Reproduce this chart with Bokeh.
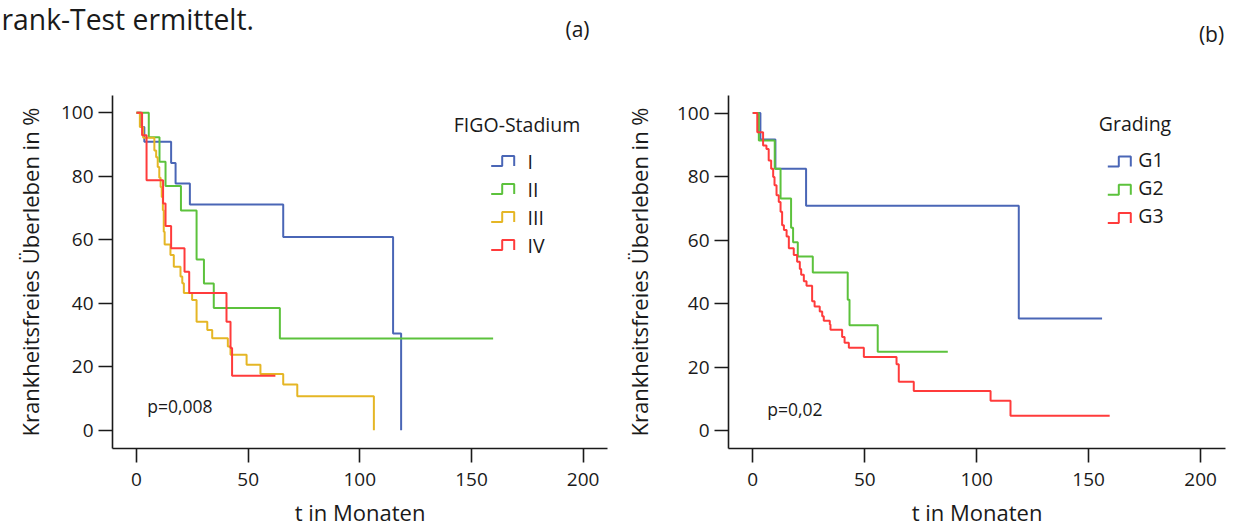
from bokeh.plotting import figure
from bokeh.layouts import row, column
from bokeh.models import Range1d, Label, FixedTicker
from bokeh.embed import file_html
from bokeh.resources import INLINE

FONT = "Open Sans"
TXT = "#1a1a1a"

# ---------------- data ----------------
x_ticks = [0, 50, 100, 150, 200]
y_ticks = [0, 20, 40, 60, 80, 100]
x_label = "t in Monaten"
y_label = "Krankheitsfreies Überleben in %"
header_text = "rank-Test ermittelt."
panel_tags = ["(a)", "(b)"]

# (a) FIGO stage
figo_title = "FIGO-Stadium"
figo_names = ["I", "II", "III", "IV"]
figo_colors = ["#4a66b6", "#5cc23c", "#e5b625", "#ff3b3b"]
figo_p = "p=0,008"

figo1_t = [0, 2.0, 3.5, 15.5, 17.5, 23.9, 65.7, 114.9, 118.5]
figo1_s = [100, 95.5, 90.9, 84.2, 77.7, 71.1, 60.9, 30.5, 0]

figo2_t = [0, 5.5, 10.3, 13.0, 19.9, 26.9, 30.2, 34.6, 64.2, 159.7]
figo2_s = [100, 92.3, 84.6, 76.9, 69.2, 53.8, 46.2, 38.5, 28.9, 28.9]

figo3_t = [0, 1.5, 3.0, 8.0, 8.8, 9.5, 10.2, 10.8, 11.3, 11.8, 12.2, 12.6, 15.2, 16.7,
           19.7, 20.5, 21.2, 24.9, 26.9, 31.7, 33.9, 40.9, 42.1, 49.3, 55.5, 65.7, 72.0, 106.3]
figo3_s = [100, 95.5, 92.1, 88.1, 86.0, 82.9, 79.5, 76.6, 73.5, 69.3, 62.5, 58.5, 55.2, 51.5,
           48.4, 46.3, 43.2, 41.0, 34.2, 31.6, 29.0, 26.4, 23.8, 20.6, 17.7, 14.4, 10.7, 0]

figo4_t = [0, 2.5, 4.5, 11.9, 13.0, 15.5, 21.5, 23.6, 40.3, 42.1, 42.8, 62.2]
figo4_s = [100, 92.9, 78.7, 71.4, 64.3, 57.3, 49.9, 43.2, 34.2, 25.9, 17.2, 17.2]

# (b) grading
grade_title = "Grading"
grade_names = ["G1", "G2", "G3"]
grade_colors = ["#4a66b6", "#5cc23c", "#ff3b3b"]
grade_p = "p=0,02"

g1_t = [0, 3.4, 10.1, 23.8, 118.8, 156.0]
g1_s = [100, 91.7, 82.5, 70.8, 35.3, 35.3]

g2_t = [0, 2.7, 9.8, 12.4, 17.1, 18.0, 20.1, 26.8, 42.4, 43.2, 55.8, 87.1]
g2_s = [100, 91.4, 82.5, 73.1, 63.9, 59.3, 54.8, 49.8, 41.2, 33.2, 24.8, 24.8]

g3_t = [0, 2.0, 4.6, 6.1, 7.1, 8.2, 9.1, 9.7, 10.6, 11.6,
        12.4, 13.1, 13.9, 15.1, 16.1, 18.3, 19.8, 21.0, 21.6, 22.8,
        24.0, 26.5, 27.6, 29.9, 31.0, 31.7, 34.4, 34.7, 39.9, 41.0,
        42.9, 49.6, 64.2, 65.2, 71.9, 106.2, 115.1, 159.4]
g3_s = [100, 94.0, 89.8, 88.7, 85.1, 82.5, 79.9, 77.3, 74.1, 72.0,
        68.9, 64.7, 63.2, 61.1, 57.4, 55.3, 53.2, 50.9, 49.1, 47.0,
        45.6, 40.7, 39.1, 37.5, 36.0, 34.6, 33.4, 31.8, 29.5, 27.7,
        26.1, 23.2, 20.9, 15.4, 12.5, 9.4, 4.7, 4.7]

# ---------------- layout helpers ----------------
TOTAL_W = 1231
HEAD_H = 50
PANEL_H = 480


class Geo:
    def __init__(self, page_x0, width, mbl, mbr, mbt, mbb, xr, yr, top0=HEAD_H):
        self.width = width
        self.mbl, self.mbr, self.mbt, self.mbb = mbl, mbr, mbt, mbb
        self.xr, self.yr = xr, yr
        self.fl = page_x0 + mbl
        self.fr = page_x0 + width - mbr
        self.ft = top0 + mbt
        self.fb = top0 + PANEL_H - mbb

    def x(self, px):
        return self.xr[0] + (px - self.fl) / (self.fr - self.fl) * (self.xr[1] - self.xr[0])

    def y(self, py):
        return self.yr[1] - (py - self.ft) / (self.fb - self.ft) * (self.yr[1] - self.yr[0])


def base_fig(g, ylab_standoff):
    p = figure(width=g.width, height=PANEL_H, output_backend="svg", toolbar_location=None,
               x_range=Range1d(*g.xr), y_range=Range1d(*g.yr), title=None,
               min_border_left=g.mbl, min_border_right=g.mbr,
               min_border_top=g.mbt, min_border_bottom=g.mbb)
    p.outline_line_color = None
    p.grid.visible = False
    p.background_fill_color = "white"
    p.border_fill_color = "white"
    for ax, ticks in ((p.xaxis, x_ticks), (p.yaxis, y_ticks)):
        ax.ticker = FixedTicker(ticks=ticks)
        ax.minor_tick_line_color = None
        ax.major_tick_in = 0
        ax.major_tick_out = 14
        ax.axis_line_width = 1.6
        ax.axis_line_color = TXT
        ax.major_tick_line_width = 1.6
        ax.major_tick_line_color = TXT
        ax.major_label_text_font = FONT
        ax.major_label_text_font_size = "19px"
        ax.major_label_text_color = TXT
        ax.axis_label_text_font = FONT
        ax.axis_label_text_font_size = "22px"
        ax.axis_label_text_font_style = "normal"
        ax.axis_label_text_color = TXT
    p.xaxis.major_label_standoff = 10
    p.yaxis.major_label_standoff = 5
    p.xaxis.axis_label = x_label
    p.yaxis.axis_label = y_label
    p.xaxis.axis_label_standoff = 8
    p.yaxis.axis_label_standoff = ylab_standoff
    return p


def text(p, g, px, py, s, size, align="left"):
    p.add_layout(Label(x=g.x(px), y=g.y(py), text=s, text_font=FONT,
                       text_font_size=size, text_color=TXT,
                       text_baseline="alphabetic", text_align=align))


def legend(p, g, title, title_x, title_base, names, colors, icon_x, label_x, base0, step, dy):
    text(p, g, title_x, title_base, title, "19.5px")
    for i, (n, c) in enumerate(zip(names, colors)):
        b = base0 + i * step
        xs = [icon_x, icon_x + 11, icon_x + 11, icon_x + 23, icon_x + 23]
        ys = [b, b, b - 10, b - 10, b]
        p.line([g.x(v) for v in xs], [g.y(v) for v in ys], line_color=c, line_width=2)
        text(p, g, label_x, b + dy, n, "19.5px")


# ---------------- header strip ----------------
head = figure(width=TOTAL_W, height=HEAD_H, output_backend="svg", toolbar_location=None,
              x_range=Range1d(0, TOTAL_W), y_range=Range1d(HEAD_H, 0), title=None,
              x_axis_location=None, y_axis_location=None,
              min_border_left=0, min_border_right=0, min_border_top=0, min_border_bottom=0)
head.outline_line_color = None
head.grid.visible = False
for s, x, y, size, align in [(header_text, 1, 18.0, "28.3px", "left"),
                             (panel_tags[0], 577, 28.0, "21px", "center"),
                             (panel_tags[1], 1211, 33.0, "21px", "center")]:
    head.add_layout(Label(x=x, y=y, text=s, text_font=FONT, text_font_size=size,
                          text_color=TXT, text_baseline="alphabetic", text_align=align))

# ---------------- panel (a) ----------------
ga = Geo(0, 616, 112, 9, 45, 81, (-10.75, 210.92), (-5.75, 105.43))
pa = base_fig(ga, 13)
for t, s, c in zip([figo1_t, figo2_t, figo3_t, figo4_t],
                   [figo1_s, figo2_s, figo3_s, figo4_s], figo_colors):
    pa.step(t, s, mode="after", line_color=c, line_width=2)
legend(pa, ga, figo_title, 453.3, 124.5, figo_names, figo_colors, 490.7, 527.0, 165.7, 28.1, -5)
text(pa, ga, 146.7, 406.0, figo_p, "17.5px")

# ---------------- panel (b) ----------------
gb = Geo(616, 615, 112, 6, 43, 82, (-10.85, 211.13), (-5.64, 105.54))
pb = base_fig(gb, 20)
for t, s, c in zip([g1_t, g2_t, g3_t], [g1_s, g2_s, g3_s], grade_colors):
    pb.step(t, s, mode="after", line_color=c, line_width=2)
legend(pb, gb, grade_title, 1098.3, 121.5, grade_names, grade_colors, 1107.3, 1137.7, 164.3, 28.4, -7)
text(pb, gb, 766.7, 408.0, grade_p, "17.5px")

layout = column(head, row(pa, pb))
open("out.html", "w").write(file_html(layout, INLINE))
